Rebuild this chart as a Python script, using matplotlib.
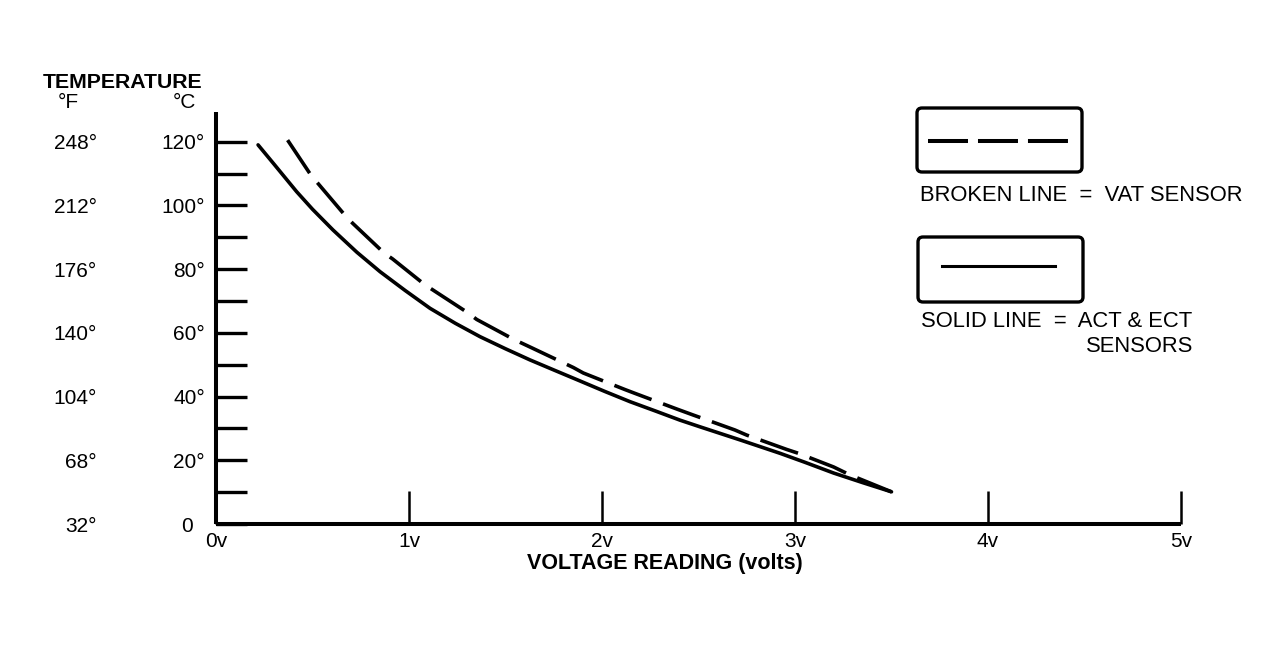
import matplotlib
matplotlib.use("Agg")
import matplotlib.pyplot as plt
from matplotlib.patches import FancyBboxPatch
from matplotlib.lines import Line2D
from matplotlib.transforms import IdentityTransform

plt.rcParams['font.family'] = ['Liberation Sans', 'DejaVu Sans']

# ---- data ----
vat_volts = [0.371, 0.492, 0.527, 0.674, 0.708, 0.872, 0.915, 1.08, 1.138, 1.30, 1.351,
             1.541, 1.636, 1.852, 1.903, 2.119, 2.171, 2.387, 2.473, 2.689, 2.75, 2.957,
             3.017, 3.20, 3.285, 3.50]
vat_temp_c = [120.5, 109.5, 107.0, 96.5, 94.4, 85.0, 83.2, 75.2, 72.9, 66.5, 64.2,
              58.0, 55.3, 49.1, 47.4, 42.2, 41.0, 36.1, 34.2, 29.5, 27.9, 23.4,
              22.2, 17.9, 15.4, 10.1]

act_ect_volts = [0.218, 0.30, 0.418, 0.50, 0.606, 0.73, 0.85, 0.98, 1.109, 1.24, 1.368,
                 1.50, 1.627, 1.76, 1.886, 2.015, 2.145, 2.28, 2.404, 2.508, 2.72, 2.922,
                 3.05, 3.20, 3.35, 3.50]
act_ect_temp_c = [119.0, 113.0, 104.3, 98.8, 92.3, 85.3, 79.2, 73.3, 67.7, 63.0, 58.8,
                  55.0, 51.5, 48.1, 44.9, 41.6, 38.4, 35.4, 32.6, 30.5, 26.3, 22.2,
                  19.4, 16.0, 13.0, 10.1]

c_ticks = [0, 20, 40, 60, 80, 100, 120]
c_tick_labels = ['0  ', '20°', '40°', '60°', '80°', '100°', '120°']
c_minor_ticks = [10, 30, 50, 70, 90, 110]
f_ticks = [32, 68, 104, 140, 176, 212, 248]
f_tick_labels = ['32°', '68°', '104°', '140°', '176°', '212°', '248°']
volt_ticks = [0, 1, 2, 3, 4, 5]
volt_labels = ['0v', '1v', '2v', '3v', '4v', '5v']

legend_texts = ['BROKEN LINE  =  VAT SENSOR', 'SOLID LINE  =  ACT & ECT', 'SENSORS']

# ---- figure ----
W, H = 1283, 649
fig = plt.figure(figsize=(W / 100, H / 100), dpi=100)
fig.patch.set_facecolor('white')

def fx(x):
    return x / W

def fy(y):
    return 1 - y / H

ax = fig.add_axes([fx(216), fy(524), (1181 - 216) / W, (524 - 112) / H])
ax.set_xlim(0, 5)
ax.set_ylim(0, 120 * (524 - 112) / (524 - 141.7))
for s in ['top', 'right']:
    ax.spines[s].set_visible(False)
for s in ['left', 'bottom']:
    ax.spines[s].set_linewidth(2.9)
    ax.spines[s].set_capstyle('butt')

ax.set_xticks(volt_ticks, volt_labels)
ax.set_yticks(c_ticks, c_tick_labels)
ax.set_yticks(c_minor_ticks, minor=True)
ax.tick_params(axis='y', which='both', direction='in', length=22, width=2.4,
               labelsize=15, pad=8)
ax.tick_params(axis='x', direction='in', length=24, width=1.8, labelsize=15, pad=6)

ax.plot(act_ect_volts, act_ect_temp_c, color='black', lw=2.6, solid_capstyle='round',
        solid_joinstyle='round')
ax.plot(vat_volts, vat_temp_c, color='black', lw=2.6, linestyle=(0, (11.0, 3.4)),
        dash_capstyle='butt', dash_joinstyle='round')

# Fahrenheit scale
sec = ax.secondary_yaxis((97 - 216) / 965, functions=(lambda c: c * 9 / 5 + 32,
                                                       lambda f: (f - 32) * 5 / 9))
sec.set_yticks(f_ticks, f_tick_labels)
sec.spines['left'].set_visible(False)
sec.tick_params(length=0, pad=0, labelsize=15)

# headers
fig.text(fx(43), fy(83), 'TEMPERATURE', fontsize=15.3, fontweight='bold', ha='left', va='center')
fig.text(fx(68), fy(102), '°F', fontsize=15, ha='center', va='center')
fig.text(fx(184), fy(102), '°C', fontsize=15, ha='center', va='center')
fig.text(fx(665), fy(563), 'VOLTAGE READING (volts)', fontsize=15.5, fontweight='bold',
         ha='center', va='center')

# legend boxes
ident = IdentityTransform()
for (x0, y0, x1, y1) in [(917, 108, 1082, 172), (918, 237, 1083, 302)]:
    box = FancyBboxPatch((x0, H - y1), x1 - x0, y1 - y0,
                         boxstyle='round,pad=0,rounding_size=5',
                         transform=ident, facecolor='none', edgecolor='black', lw=2.4)
    fig.patches.append(box)

fig.lines.append(Line2D([928, 1068], [H - 141, H - 141], transform=ident, color='black',
                        lw=2.9, linestyle=(0, (9.93, 2.48)), dash_capstyle='butt'))
fig.lines.append(Line2D([942, 1055], [H - 266, H - 266], transform=ident, color='black',
                        lw=2.2))

fig.text(fx(920), fy(195.5), legend_texts[0], fontsize=15.8, ha='left', va='center')
fig.text(fx(921), fy(321.5), legend_texts[1], fontsize=15.8, ha='left', va='center')
fig.text(fx(1193), fy(347), legend_texts[2], fontsize=15.8, ha='right', va='center')

fig.savefig('out.png', dpi=100, facecolor='white')
